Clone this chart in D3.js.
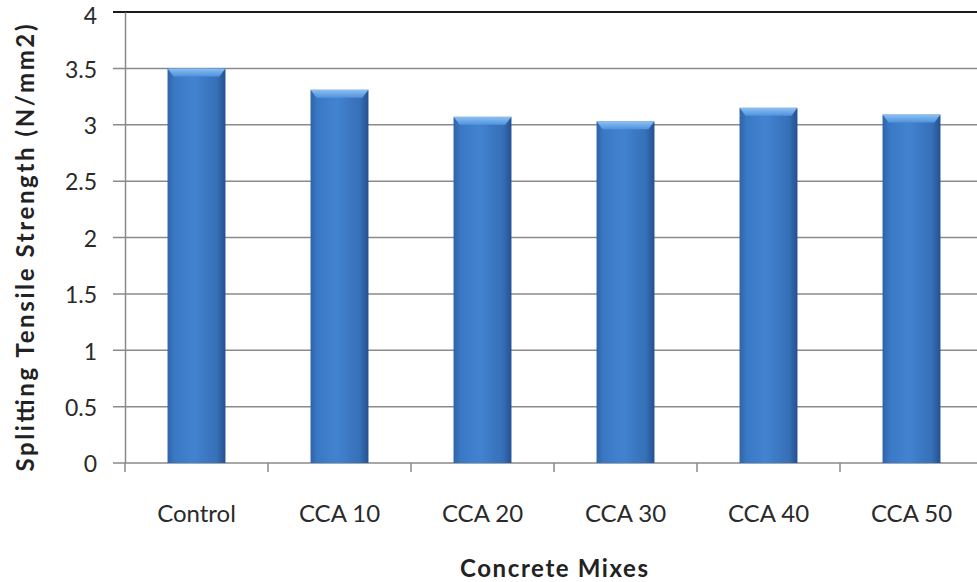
<!DOCTYPE html>
<html>
<head>
<meta charset="utf-8">
<script src="https://cdn.jsdelivr.net/npm/d3@7"></script>
<style>
	body { margin: 0; background: #fff; }
	svg { display: block; font-family: Lato, "Open Sans", sans-serif; }
</style>
</head>
<body>
<div id="chart"></div>
<script>
const mixes = ["Control", "CCA 10", "CCA 20", "CCA 30", "CCA 40", "CCA 50"];
const strength = [3.5, 3.31, 3.07, 3.03, 3.15, 3.09];
const yTicks = [0, 0.5, 1, 1.5, 2, 2.5, 3, 3.5, 4];

const w = 977;
const h = 582;
const plotLeft = 125;
const plotRight = 983;
const plotTop = 12;
const plotBottom = 463;

const svg = d3.select("#chart").append("svg").attr("width", w).attr("height", h);

const defs = svg.append("defs");
const grad = defs.append("linearGradient").attr("id", "barGrad")
	.attr("x1", "0").attr("x2", "1").attr("y1", "0").attr("y2", "0");
grad.append("stop").attr("offset", "0%").attr("stop-color", "#2f63a8");
grad.append("stop").attr("offset", "12%").attr("stop-color", "#3a78c4");
grad.append("stop").attr("offset", "45%").attr("stop-color", "#4283d0");
grad.append("stop").attr("offset", "85%").attr("stop-color", "#3670b8");
grad.append("stop").attr("offset", "100%").attr("stop-color", "#24518f");
const topGrad = defs.append("linearGradient").attr("id", "topGrad")
	.attr("x1", "0").attr("x2", "0").attr("y1", "0").attr("y2", "1");
topGrad.append("stop").attr("offset", "0%").attr("stop-color", "#8cc0f2");
topGrad.append("stop").attr("offset", "100%").attr("stop-color", "#4f92dc");

const x = d3.scaleBand().domain(mixes).range([plotLeft, plotRight]).paddingInner(0.595).paddingOuter(0.2975);
const y = d3.scaleLinear().domain([0, 4]).range([plotBottom, plotTop]);

// gridlines
svg.append("g")
	.selectAll("line")
	.data(yTicks)
	.enter()
	.append("line")
	.attr("x1", plotLeft - 12)
	.attr("x2", w)
	.attr("y1", (d) => y(d))
	.attr("y2", (d) => y(d))
	.attr("stroke", (d) => (d === 4 ? "#1a1a1a" : "#8a8a8a"))
	.attr("stroke-width", (d) => (d === 4 ? 2 : 1.5));

// y axis
const yAxis = d3.axisLeft(y).tickValues(yTicks).tickSize(0).tickPadding(28).tickFormat(d3.format("~g"));
const gy = svg.append("g").attr("transform", "translate(" + plotLeft + ",0)").call(yAxis);
gy.select(".domain").attr("stroke", "#8a8a8a").attr("stroke-width", 1.5);
gy.selectAll("text")
	.attr("font-size", 23)
	.attr("dy", (d) => (d === 4 ? "0.5em" : "0.38em"))
	.attr("fill", "#2a2a2a")
	.attr("font-family", "Lato, sans-serif");

// bars
const bars = svg.append("g")
	.selectAll("g")
	.data(mixes)
	.enter()
	.append("g");

bars.append("rect")
	.attr("x", (d) => x(d))
	.attr("y", (d, i) => y(strength[i]))
	.attr("width", x.bandwidth())
	.attr("height", (d, i) => plotBottom - y(strength[i]))
	.attr("fill", "url(#barGrad)");

bars.append("path")
	.attr("d", (d, i) => {
		const x0 = x(d);
		const x1 = x0 + x.bandwidth();
		const yt = y(strength[i]);
		return "M" + x0 + "," + yt + "L" + x1 + "," + yt + "L" + (x1 - 6) + "," + (yt + 8) + "L" + (x0 + 6) + "," + (yt + 8) + "Z";
	})
	.attr("fill", "url(#topGrad)");

// x axis
const xAxis = d3.axisBottom(x).tickSize(0).tickPadding(42);
const gx = svg.append("g").attr("transform", "translate(0," + plotBottom + ")").call(xAxis);
gx.select(".domain").remove();
gx.selectAll("text").attr("font-size", 24).attr("fill", "#2a2a2a").attr("font-family", "Lato, sans-serif");

const sep = d3.range(mixes.length).map((i) => x.step() * i + plotLeft);
svg.append("g")
	.selectAll("line")
	.data(sep)
	.enter()
	.append("line")
	.attr("x1", (d) => d)
	.attr("x2", (d) => d)
	.attr("y1", plotBottom)
	.attr("y2", plotBottom + 9)
	.attr("stroke", "#8a8a8a")
	.attr("stroke-width", 1.5);

// titles
svg.append("text")
	.attr("x", (plotLeft + plotRight) / 2)
	.attr("y", 577)
	.attr("text-anchor", "middle")
	.attr("font-size", 24)
	.attr("font-weight", "bold")
	.attr("fill", "#222")
	.attr("textLength", 188)
	.attr("lengthAdjust", "spacing")
	.text("Concrete Mixes");

svg.append("text")
	.attr("transform", "translate(34,248) rotate(-90)")
	.attr("text-anchor", "middle")
	.attr("font-size", 24)
	.attr("font-weight", "bold")
	.attr("fill", "#222")
	.attr("textLength", 447)
	.attr("lengthAdjust", "spacing")
	.text("Splitting Tensile Strength (N/mm2)");
</script>
</body>
</html>
